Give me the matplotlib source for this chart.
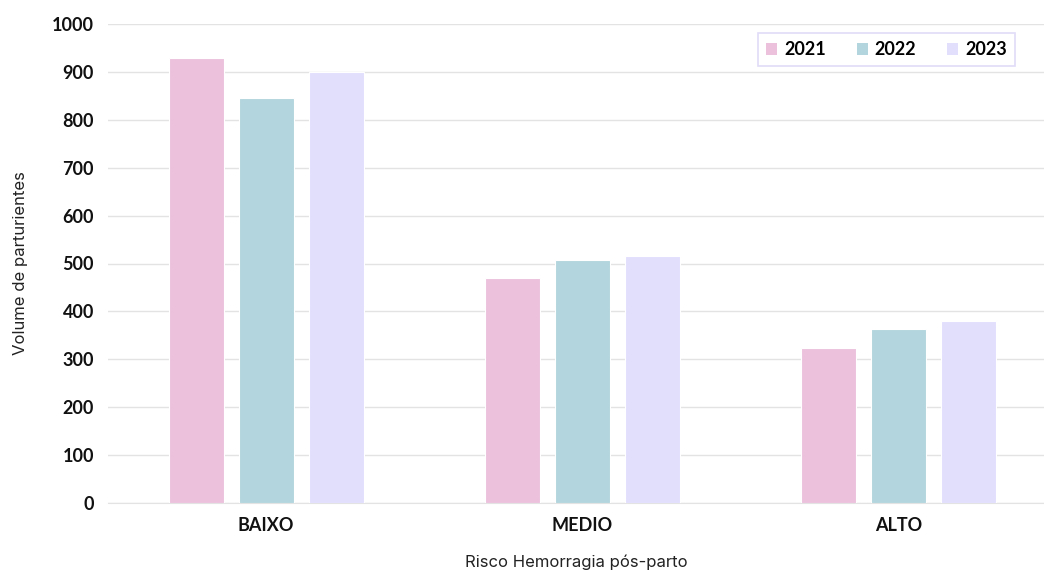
import numpy as np
import matplotlib.pyplot as plt

# Volume de parturientes por risco de hemorragia pós-parto
categorias = ['BAIXO', 'MEDIO', 'ALTO']
anos = ['2021', '2022', '2023']
v2021 = [930, 470, 324]
v2022 = [846, 508, 363]
v2023 = [900, 515, 381]
cores = ['#EBC1DC', '#B3D5DE', '#E2DFFD']

fig = plt.figure(figsize=(10.44, 5.70), dpi=100)
ax = fig.add_axes([108/1044, 1 - 503/570, (1044 - 108)/1044, (503 - 24)/570])

x = np.arange(len(categorias))
largura = 0.174
passo = 0.2215
for i, (vals, ano) in enumerate(zip([v2021, v2022, v2023], anos)):
    ax.bar(x + (i - 1) * passo, vals, largura, color=cores[i], label=ano,
           edgecolor='white', linewidth=0.8, zorder=3)

ax.set_xlim(-0.5, 2.459)
ax.set_ylim(0, 1000)
ax.set_yticks(range(0, 1001, 100))
ax.set_xticks(x)
ax.set_xticklabels(categorias)
ax.grid(axis='y', color='#e3e3e3', linewidth=1, zorder=0)
for s in ['top', 'right', 'left']:
    ax.spines[s].set_visible(False)
ax.spines['bottom'].set_color('#e3e3e3')
ax.tick_params(length=0)
ax.tick_params(axis='y', pad=10)
ax.tick_params(axis='x', pad=10)
for lbl in ax.get_yticklabels() + ax.get_xticklabels():
    lbl.set_fontfamily('Lato')
    lbl.set_fontweight('bold')
    lbl.set_fontsize(13)
    lbl.set_color('#111111')

ax.set_xlabel('Risco Hemorragia pós-parto', fontfamily='Inter', fontsize=12,
              color='#222222', labelpad=15)
ax.set_ylabel('Volume de parturientes', fontfamily='Inter', fontsize=12,
              color='#222222', labelpad=17)

leg = ax.legend(loc='upper right', bbox_to_anchor=(0.969, 0.981), ncol=3,
                frameon=True, fancybox=False, edgecolor='#D9D3F5',
                handlelength=0.6, handleheight=0.6, handletextpad=0.4,
                columnspacing=1.7, borderpad=0.45, borderaxespad=0,
                prop={'family': 'Lato', 'weight': 'bold', 'size': 13})
leg.get_frame().set_linewidth(1.2)
for h in leg.legend_handles:
    h.set_linewidth(0)
leg.set_zorder(5)

fig.savefig('out.png', dpi=100)
